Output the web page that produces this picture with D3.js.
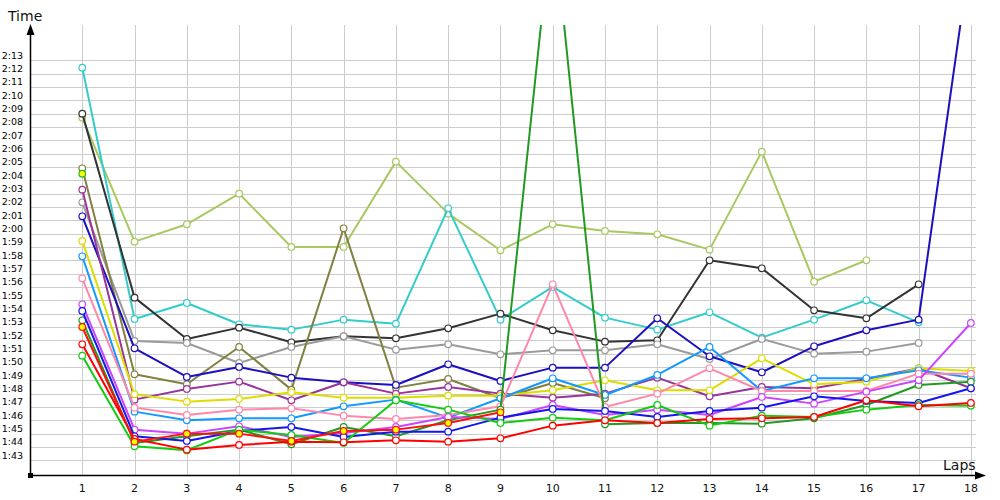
<!DOCTYPE html>
<html><head><meta charset="utf-8">
<script src="https://cdn.jsdelivr.net/npm/d3@7"></script>
<style>body{margin:0;background:#fff}svg{display:block}</style>
</head><body>
<svg id="c" width="1000" height="500"></svg>
<script>
// laps 1..18
const laps = d3.range(1, 19);
// tick labels (seconds -> m:ss)
const yTickSeconds = d3.range(103, 134);
const yTickLabels = yTickSeconds.map(s => Math.floor(s/60) + ":" + String(s%60).padStart(2,"0"));

// lap times in seconds, null = no lap
const cyan      = [132.45,113.6,114.8,113.2,112.8,113.55,113.25,121.9,113.55,116.0,113.7,112.8,114.1,112.2,113.55,115.0,113.35,null];
const black     = [129.0,115.2,112.1,112.95,111.85,112.3,112.15,112.9,114.0,112.75,111.9,112.0,118.0,117.4,114.25,113.65,116.2,null];
const lightGreen= [128.7,119.4,120.7,123.0,119.0,119.0,125.4,121.5,118.75,120.7,120.2,119.95,118.8,126.15,116.4,118.0,null,null];
const olive     = [124.9,109.45,108.7,111.5,108.3,120.4,108.45,109.1,107.65,108.8,107.65,null,null,null,null,null,null,null];
const gray      = [122.35,111.95,111.8,110.3,111.5,112.3,111.3,111.7,110.95,111.25,111.25,111.7,110.6,112.1,111.0,111.15,111.8,null];
const darkBlue  = [121.3,111.4,109.25,110.0,109.2,108.85,108.65,110.2,108.95,109.95,109.95,113.65,110.8,109.6,111.55,112.75,113.55,141.25];
const purple    = [123.3,107.55,108.35,108.9,107.5,108.85,108.0,108.5,108.0,107.7,108.0,109.2,107.8,108.5,108.4,109.1,109.9,108.4];
const yellow    = [119.45,107.95,107.4,107.6,108.1,107.7,107.7,107.85,107.85,108.25,109.0,108.25,108.25,110.65,108.7,108.9,109.9,109.7];
const lightBlue = [118.3,106.65,106.0,106.15,106.15,107.05,107.55,106.2,107.65,109.15,107.9,109.4,111.5,108.2,109.15,109.15,109.75,109.2];
const pink      = [116.65,106.95,106.4,106.8,106.9,106.35,106.1,106.4,107.05,116.2,107.0,108.0,109.9,108.2,108.2,108.2,109.5,109.5];
const violet    = [114.7,105.3,105.0,105.55,104.75,105.05,105.5,106.25,106.1,107.15,106.4,106.8,106.4,107.75,107.25,108.15,109.0,113.3];
const blue      = [114.2,104.8,104.45,105.2,105.5,104.75,105.15,105.15,106.2,106.85,106.7,106.25,106.7,106.95,107.8,107.45,107.3,108.4];
const red       = [111.7,104.6,103.8,104.15,104.4,104.35,104.5,104.4,104.65,105.6,106.0,105.8,106.1,106.15,106.25,107.5,107.05,107.3];
const redB      = [113.0,104.4,105.0,105.0,104.45,105.2,105.3,105.8,106.6,null,null,null,null,null,null,null,null,null];
const brightGreen=[110.85,104.05,103.75,105.3,104.9,104.3,107.5,106.8,105.8,106.2,106.0,107.15,105.6,106.35,106.25,106.8,107.15,107.1];
const darkGreen = [113.5,104.3,104.8,105.3,104.2,105.5,104.8,106.0,106.8,144.0,105.7,105.8,105.8,105.75,106.15,107.15,108.65,108.9];
const greenB    = [124.5,null,null,null,null,null,null,null,null,null,null,null,null,null,null,null,null,null];

const seriesList = [
  {v: lightGreen, c: "#a8c860", f: "#fff"},
  {v: cyan, c: "#33cccc", f: "#fff"},
  {v: black, c: "#333333", f: "#fff"},
  {v: gray, c: "#9a9a9a", f: "#fff"},
  {v: olive, c: "#808040", f: "#fff"},
  {v: darkBlue, c: "#1c0fbf", f: "#fff"},
  {v: purple, c: "#993399", f: "#fff"},
  {v: yellow, c: "#dddd00", f: "#fff"},
  {v: lightBlue, c: "#1199ff", f: "#fff"},
  {v: pink, c: "#ff88aa", f: "#fff"},
  {v: darkGreen, c: "#229922", f: "#fff"},
  {v: violet, c: "#cc44ff", f: "#fff"},
  {v: blue, c: "#1515ee", f: "#fff"},
  {v: brightGreen, c: "#11cc11", f: "#fff"},
  {v: red, c: "#ff0000", f: "#fff"},
  {v: redB, c: "#ff1010", f: "#ffff00"},
  {v: greenB, c: "#22bb22", f: "#ffff00"}
];

const svg = d3.select("#c");
const W = 1000, H = 500;
const x = d3.scaleLinear().domain([0, 18]).range([30, 970.9]);
const y = d3.scaleLinear().domain([103, 133]).range([460.3, 60.3]);
const plotTop = 25, plotBottom = 475, gridRight = 976;

svg.append("rect").attr("width", W).attr("height", H).attr("fill", "#fff");

// horizontal grid
svg.append("g").selectAll("line").data(yTickSeconds).join("line")
  .attr("x1", 30).attr("x2", gridRight)
  .attr("y1", d => Math.round(y(d)) + 0.5).attr("y2", d => Math.round(y(d)) + 0.5)
  .attr("stroke", "#cccccc").attr("stroke-width", 1);
// vertical grid
svg.append("g").selectAll("line").data(laps).join("line")
  .attr("x1", d => Math.round(x(d)) + 0.5).attr("x2", d => Math.round(x(d)) + 0.5)
  .attr("y1", plotTop).attr("y2", plotBottom)
  .attr("stroke", "#cccccc").attr("stroke-width", 1);

// y labels
svg.append("g").selectAll("text").data(yTickSeconds).join("text")
  .attr("x", 23).attr("y", d => y(d) - 1.5)
  .attr("text-anchor", "end")
  .attr("font-family", "DejaVu Sans, sans-serif").attr("font-size", 9.5)
  .attr("fill", "#000")
  .text((d, i) => yTickLabels[i]);

// x labels
svg.append("g").selectAll("text").data(laps).join("text")
  .attr("x", d => x(d)).attr("y", 492)
  .attr("text-anchor", "middle")
  .attr("font-family", "DejaVu Sans, sans-serif").attr("font-size", 11)
  .attr("fill", "#111")
  .text(d => d);

// axes
svg.append("line").attr("x1", 30.5).attr("x2", 30.5).attr("y1", 475).attr("y2", 33)
  .attr("stroke", "#000").attr("stroke-width", 1.5);
svg.append("path").attr("d", "M30.5,24 L26.5,35 L34.5,35 Z").attr("fill", "#000");
svg.append("line").attr("x1", 30).attr("x2", 978).attr("y1", 475.5).attr("y2", 475.5)
  .attr("stroke", "#000").attr("stroke-width", 1.5);
svg.append("path").attr("d", "M986,475.5 L975,471.5 L975,479.5 Z").attr("fill", "#000");
svg.append("rect").attr("x", 28).attr("y", 473).attr("width", 5).attr("height", 5).attr("fill", "#000");

svg.append("text").attr("x", 8).attr("y", 21).attr("font-family", "DejaVu Sans, sans-serif")
  .attr("font-size", 14).attr("fill", "#111").text("Time");
svg.append("text").attr("x", 943).attr("y", 470).attr("font-family", "DejaVu Sans, sans-serif")
  .attr("font-size", 14).attr("fill", "#111").text("Laps");

// clip
svg.append("defs").append("clipPath").attr("id", "clip")
  .append("rect").attr("x", 30).attr("y", plotTop).attr("width", 960).attr("height", plotBottom - plotTop);

const gLines = svg.append("g").attr("clip-path", "url(#clip)");
const line = d3.line().defined(d => d.t != null).x(d => x(d.lap)).y(d => y(d.t));

seriesList.forEach(s => {
  const pts = s.v.map((t, i) => ({lap: laps[i], t}));
  gLines.append("path").datum(pts).attr("d", line)
    .attr("fill", "none").attr("stroke", s.c).attr("stroke-width", 2).attr("stroke-linejoin", "round");
  gLines.append("g").selectAll("circle").data(pts.filter(d => d.t != null)).join("circle")
    .attr("cx", d => x(d.lap)).attr("cy", d => y(d.t)).attr("r", 3.3)
    .attr("fill", s.f).attr("stroke", s.c).attr("stroke-width", 1.2);
});
</script>
</body></html>
